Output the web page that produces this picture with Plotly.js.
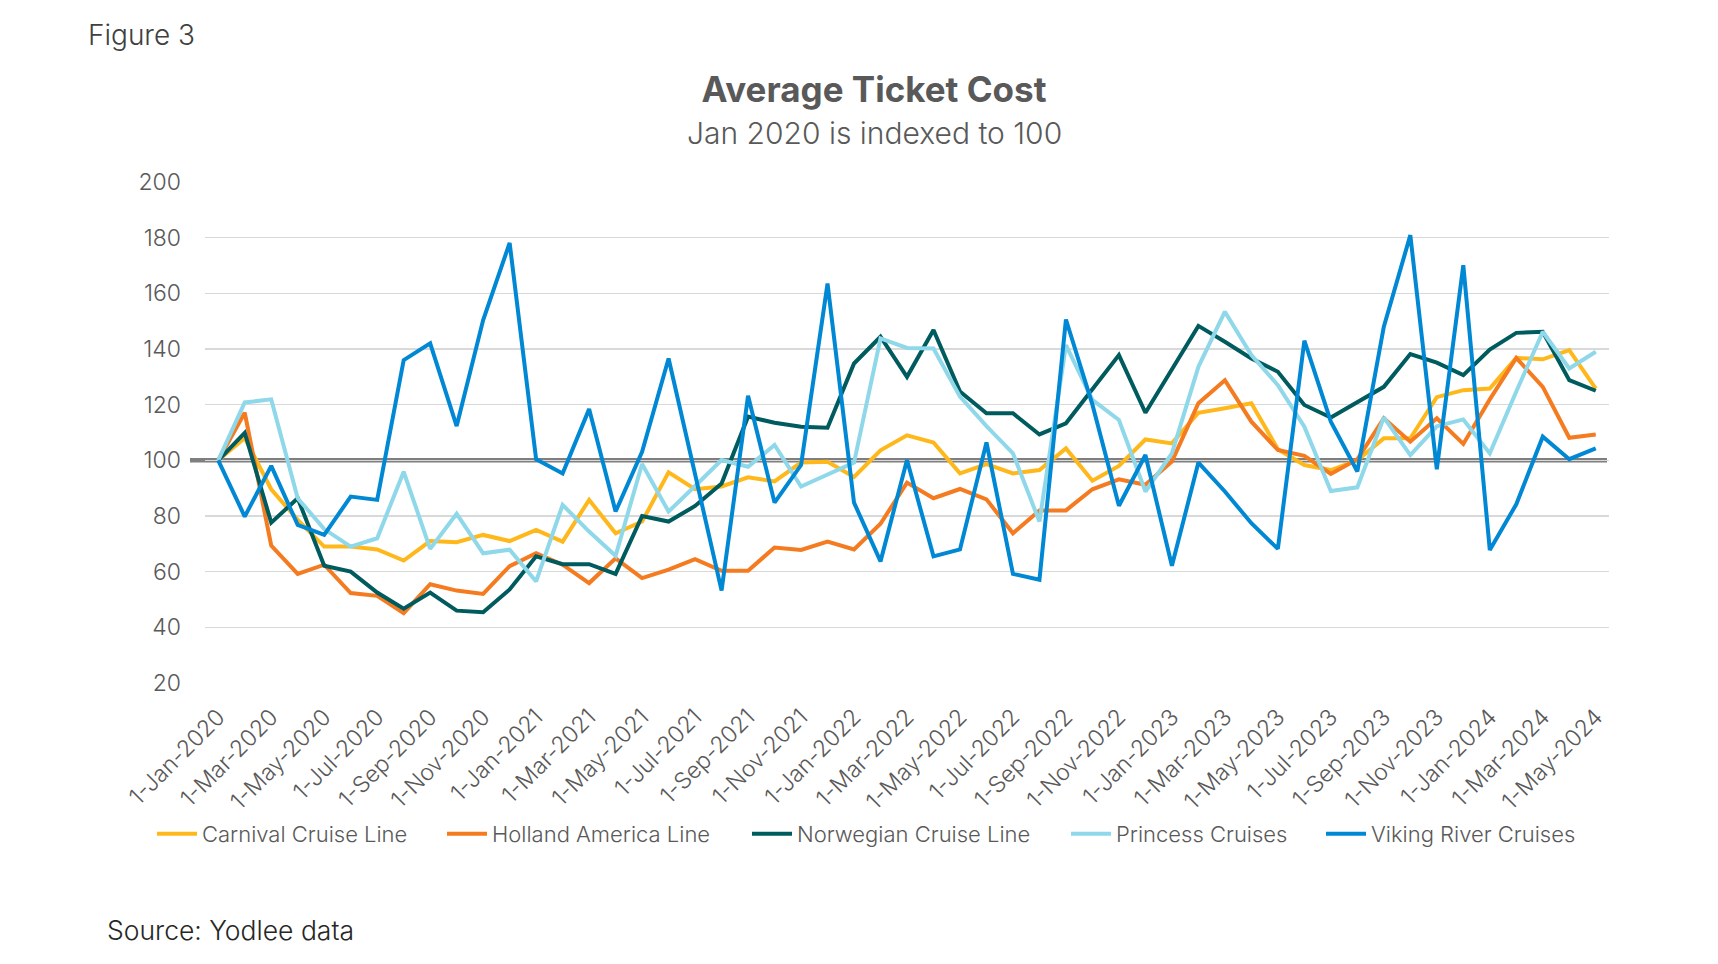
<!DOCTYPE html>
<html>
<head>
<meta charset="utf-8">
<script src="https://cdn.plot.ly/plotly-3.0.1.min.js"></script>
<style>
html,body{margin:0;padding:0;background:#fff;}
#chart{width:1718px;height:964px;}
</style>
</head>
<body>
<div id="chart"></div>
<script>
const months = [
 "1-Jan-2020","1-Feb-2020","1-Mar-2020","1-Apr-2020","1-May-2020","1-Jun-2020","1-Jul-2020","1-Aug-2020","1-Sep-2020","1-Oct-2020","1-Nov-2020","1-Dec-2020",
 "1-Jan-2021","1-Feb-2021","1-Mar-2021","1-Apr-2021","1-May-2021","1-Jun-2021","1-Jul-2021","1-Aug-2021","1-Sep-2021","1-Oct-2021","1-Nov-2021","1-Dec-2021",
 "1-Jan-2022","1-Feb-2022","1-Mar-2022","1-Apr-2022","1-May-2022","1-Jun-2022","1-Jul-2022","1-Aug-2022","1-Sep-2022","1-Oct-2022","1-Nov-2022","1-Dec-2022",
 "1-Jan-2023","1-Feb-2023","1-Mar-2023","1-Apr-2023","1-May-2023","1-Jun-2023","1-Jul-2023","1-Aug-2023","1-Sep-2023","1-Oct-2023","1-Nov-2023","1-Dec-2023",
 "1-Jan-2024","1-Feb-2024","1-Mar-2024","1-Apr-2024","1-May-2024"
];
const tickLabels = months.filter((m, i) => i % 2 === 0);

const carnival = [100,108,89.6,78.6,69,69,68,64,71,70.6,73.2,71,
 75,70.8,85.8,73.8,78,95.7,89.6,90.6,93.9,92.4,99.2,99.5,
 94,103.6,109,106.4,95.3,98.6,95.3,96.5,104.3,92.7,98,107.5,
 106.1,117.1,118.7,120.5,104,98.3,96.5,100,107.9,107.9,122.7,125.2,125.8,136.8,136.3,139.6,125.8];
const holland = [100,117.1,69.4,59.2,62.5,52.3,51.3,45.1,55.5,53.2,52,62,
 66.6,62.5,55.9,64.8,57.7,60.7,64.5,60.3,60.3,68.7,67.8,70.8,
 68,77.2,92,86.4,89.7,86,73.8,82,82,89.6,93.2,91.2,
 99.6,120.5,128.8,113.9,103.7,101.6,95.1,100.4,115.1,106.7,115.1,105.9,121.9,136.8,126.4,108.1,109.3];
const norwegian = [100,109.9,77.6,86.4,62.1,60,52.5,46.7,52.5,46,45.4,53.6,
 65.5,62.7,62.7,59.2,80,78,83.6,91.7,115.7,113.5,112.1,111.7,
 134.8,144.4,130,146.8,124.7,116.9,116.9,109.3,113.3,125.5,137.8,117.1,
 132.4,148.3,142.6,136.6,131.8,119.9,115.4,121,126.4,138.2,135.1,130.6,139.8,145.8,146.2,128.8,125];
const princess = [100,120.8,121.9,86.4,75.3,69,72,95.9,68.2,80.8,66.6,67.9,
 56.5,84,74.4,65.7,98.7,81.6,90.8,100.1,97.7,105.5,90.6,94.8,
 99.2,143.8,140.4,140.2,122.9,112.3,102.5,78,141.4,121.7,114.5,88.8,
 102.5,133.6,153.4,137.8,127,112.1,89,90.3,115.4,101.9,112.2,114.7,102.5,124.7,146.2,133,139];
const viking = [100,79.8,98,76.8,73.2,87,85.8,136,142,112.3,150.4,178.1,
 100.4,95.3,118.4,81.6,103.1,136.6,95,53.2,123.2,84.8,98.3,163.5,
 84.8,63.7,100.1,65.5,68,106.4,59.2,57.1,150.6,120,83.7,101.9,
 62.1,99.2,88.8,77.4,68.2,143,113.9,96,148,180.9,96.8,170.1,67.8,84.2,108.5,100.4,104.3];

const seriesNames = ["Carnival Cruise Line","Holland America Line","Norwegian Cruise Line","Princess Cruises","Viking River Cruises"];
const seriesData = [carnival, holland, norwegian, princess, viking];
const seriesColors = ["#FFB81C","#F47B20","#005B5E","#8ED8EA","#0088D4"];
const baseline = 100;

const FONT = "Inter, 'Open Sans', sans-serif";
const TXT = "#595959";
const W = 1718, H = 964;
const ML = 205, MR = 109, MT = 182, MB = 281;
const PW = W - ML - MR, PH = H - MT - MB;
const px2x = p => (p - ML) / PW;
const py2y = p => (H - MB - p) / PH;

const legendIds = ["legend","legend2","legend3","legend4","legend5"];
const legendLeft = [157, 447, 752, 1071, 1326];

const traces = seriesNames.map((name, k) => ({
  type: "scatter", mode: "lines", name: name, legend: legendIds[k],
  x: months, y: seriesData[k],
  line: {color: seriesColors[k], width: 4}
}));

const legendFont = {family: FONT, size: 22, color: TXT, weight: 300};

const layout = {
  width: W, height: H,
  paper_bgcolor: "#fff", plot_bgcolor: "#fff",
  margin: {l: ML, r: MR, t: MT, b: MB},
  font: {family: FONT, color: TXT, weight: 300},
  title: {
    text: "<b>Average Ticket Cost</b>",
    font: {family: FONT, size: 35, color: TXT},
    x: px2x(874), xanchor: "center", xref: "paper",
    y: 1 - 90 / H, yanchor: "middle", yref: "container"
  },
  showlegend: true,
  xaxis: {
    type: "category", range: [-0.5, 52.5],
    tickmode: "array", tickvals: tickLabels, ticktext: tickLabels,
    tickangle: -45, tickfont: {family: FONT, size: 23, color: TXT, weight: 300},
    ticklabelstandoff: 15,
    showgrid: false, zeroline: false, showline: false, ticks: "",
    fixedrange: true
  },
  yaxis: {
    range: [20, 200], dtick: 20, tick0: 20,
    tickfont: {family: FONT, size: 23, color: TXT, weight: 300},
    ticklabelstandoff: 23,
    gridcolor: "#D9D9D9", gridwidth: 1.5,
    zeroline: false, showline: false, ticks: "",
    automargin: false, fixedrange: true
  },
  shapes: [{
    type: "line", xref: "paper", yref: "y",
    x0: px2x(190), x1: px2x(1607), y0: baseline, y1: baseline,
    line: {color: "#7F7F7F", width: 4.5}, layer: "between"
  }],
  annotations: [
    {text: "Figure 3", xref: "paper", yref: "paper",
     x: px2x(86), y: py2y(35), xanchor: "left", yanchor: "middle",
     showarrow: false, font: {family: FONT, size: 28, color: "#404040", weight: 300}},
    {text: "Jan 2020 is indexed to 100", xref: "paper", yref: "paper",
     x: px2x(874), y: py2y(133), xanchor: "center", yanchor: "middle",
     showarrow: false, font: {family: FONT, size: 30, color: TXT, weight: 300}},
    {text: "Source: Yodlee data", xref: "paper", yref: "paper",
     x: px2x(105), y: py2y(930), xanchor: "left", yanchor: "middle",
     showarrow: false, font: {family: FONT, size: 26.5, color: "#262626", weight: 300}}
  ]
};

legendIds.forEach((id, k) => {
  layout[id] = {
    orientation: "h", x: px2x(legendLeft[k] - 5), xanchor: "left",
    y: 1 - 834 / H, yanchor: "middle", yref: "container",
    font: legendFont, itemwidth: 40, bgcolor: "rgba(0,0,0,0)", borderwidth: 0
  };
});

Plotly.newPlot("chart", traces, layout, {displayModeBar: false, staticPlot: true});
</script>
</body>
</html>
